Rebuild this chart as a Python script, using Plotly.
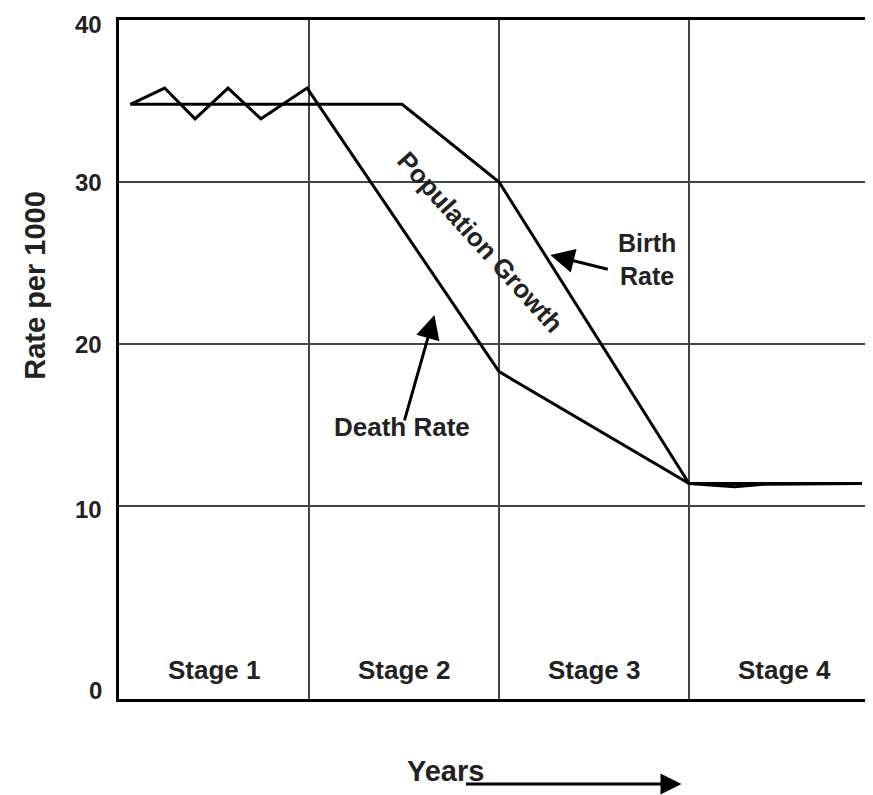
import plotly.graph_objects as go

# Data (x in stage units, y rate per 1000)
birth_x = [0.06, 1.49, 2.0, 3.0, 3.91]
birth_y = [34.8, 34.8, 30.0, 11.4, 11.4]

death_x = [0.06, 0.24, 0.40, 0.574, 0.747, 0.99, 2.0, 3.0, 3.24, 3.40, 3.91]
death_y = [34.8, 35.8, 33.9, 35.8, 33.9, 35.8, 18.3, 11.4, 11.2, 11.35, 11.4]

stage_labels = ["Stage 1", "Stage 2", "Stage 3", "Stage 4"]
stage_pos = [0.5, 1.5, 2.5, 3.5]
ytick_text = ["0", "10", "20", "30", "40"]
ytick_pos = [-1.35, 9.8, 20, 30, 39.75]

FONT = "Liberation Sans"
fig = go.Figure()
fig.add_trace(go.Scatter(x=birth_x, y=birth_y, mode="lines",
                         line=dict(color="black", width=3), showlegend=False))
fig.add_trace(go.Scatter(x=death_x, y=death_y, mode="lines",
                         line=dict(color="black", width=3), showlegend=False))

ann = []
for s, p in zip(stage_labels, stage_pos):
    ann.append(dict(x=p, y=-0.1, text="<b>%s</b>" % s, showarrow=False,
                    font=dict(size=26, color="#222", family=FONT)))
for t, p in zip(ytick_text, ytick_pos):
    ann.append(dict(x=0, xref="paper", y=p, text="<b>%s</b>" % t, showarrow=False,
                    xanchor="right", xshift=-15, font=dict(size=24, color="#222", family=FONT)))
ann.append(dict(x=0, xref="paper", xshift=-102, y=23.6, text="<b>Rate per 1000</b>",
                textangle=-90, showarrow=False, font=dict(size=29, color="#222", family=FONT)))
ann.append(dict(x=1.9, y=26.3, text="<b>Population Growth</b>", textangle=48,
                showarrow=False, font=dict(size=26, color="#222", family=FONT)))
ann.append(dict(x=2.78, y=25.2, text="<b>Birth<br>Rate</b>", showarrow=False,
                align="center", font=dict(size=25, color="#222", family=FONT)))
ann.append(dict(x=2.27, y=25.5, ax=2.58, ay=24.6, axref="x", ayref="y",
                text="", showarrow=True, arrowhead=2, arrowsize=1.6, arrowwidth=3,
                arrowcolor="black"))
ann.append(dict(x=1.66, y=21.8, ax=1.50, ay=15.2, axref="x", ayref="y",
                text="", showarrow=True, arrowhead=2, arrowsize=1.6, arrowwidth=3,
                arrowcolor="black"))
ann.append(dict(x=1.49, y=14.9, text="<b>Death Rate</b>", showarrow=False,
                font=dict(size=26, color="#222", family=FONT)))
ann.append(dict(x=1.72, y=-0.1325, yref="paper", text="<b>Years</b>", showarrow=False,
                font=dict(size=29, color="#222", family=FONT)))
ann.append(dict(x=2.96, y=-0.125, yref="paper", ax=-217, ay=0,
                text="", showarrow=True, arrowhead=2, arrowsize=1.4, arrowwidth=3,
                arrowcolor="black"))

fig.update_layout(
    width=873, height=795,
    margin=dict(l=111, r=0, t=12, b=104),
    plot_bgcolor="white", paper_bgcolor="white",
    annotations=ann,
    xaxis=dict(range=[0, 4.01], tickvals=[1, 2, 3], showticklabels=False,
               showgrid=True, gridcolor="#444", gridwidth=2, zeroline=False,
               showline=True, linecolor="black", linewidth=3, mirror=True, ticks=""),
    yaxis=dict(range=[-1.9, 40], tickvals=[10, 20, 30], showticklabels=False,
               showgrid=True, gridcolor="#444", gridwidth=2, zeroline=False,
               showline=True, linecolor="black", linewidth=3, mirror=False, ticks=""),
)
fig.write_html("out.html")
